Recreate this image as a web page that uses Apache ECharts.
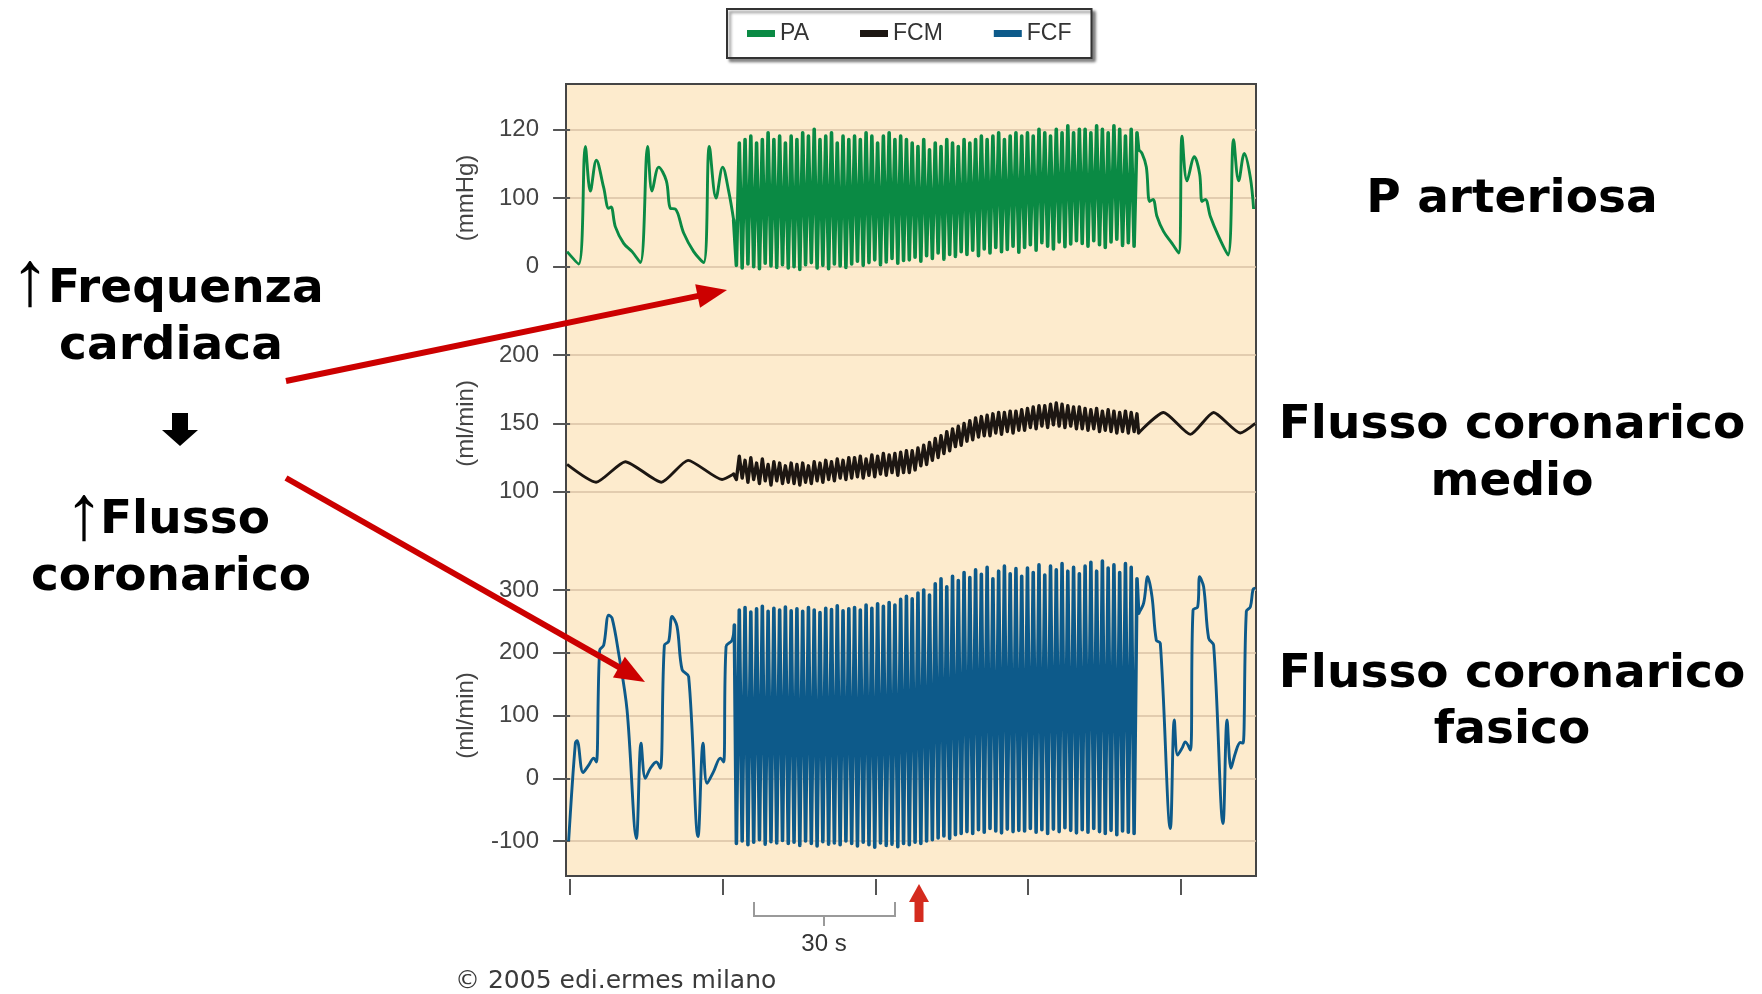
<!DOCTYPE html>
<html><head><meta charset="utf-8">
<script src="https://cdn.jsdelivr.net/npm/echarts@6/dist/echarts.min.js"></script>
<style>html,body{margin:0;padding:0;background:#fff}#c{width:1762px;height:994px}</style>
</head><body><div id="c"></div>
<script>
// ---------- axes ----------
const xTicks = [0, 30, 60, 90, 120];          // seconds
const paTickLabels = [0, 100, 120];           // mmHg (printed labels, equally spaced on the figure)
const fcmTickValues = [100, 150, 200];        // ml/min
const fcfTickValues = [-100, 0, 100, 200, 300];

// ---------- PA (mmHg): [time s, value] ----------
const paPre = [[-0.59,22],[1.69,4],[3.01,115],[3.99,102],[5.17,111],[6.61,103],[7.59,85],[8.06,87],[8.91,58],[10.54,34],[12.19,22],[13.82,6],[15.25,115],[16.12,102],[17.42,109],[18.93,105],[19.72,85],[20.7,84],[22.33,49],[24.30,22],[26.26,6],[27.38,115],[28.70,100],[30.0,109],[31.18,102],[32.16,68]];
const paPost = [[111.77,114],[112.44,113],[113.29,109],[113.94,95],[114.61,98],[115.39,73],[116.69,51],[118.34,34],[119.64,20],[120.31,118],[121.29,105],[122.73,112],[123.77,107],[124.24,95],[124.89,98],[125.88,73],[127.50,44],[129.35,17],[130.45,117],[131.44,105],[132.56,113],[133.74,106],[134.38,84]];
// pacing period: successive trough / peak values
const paDense = [
2,116,-2,117,4,118,0,116,-3,117,5,119,1,117,-1,118,3,116,-2,118,
0,117,-4,119,3,118,6,120,-2,117,2,118,-3,119,4,116,1,118,-1,117,
4,118,8,117,2,119,6,118,10,116,3,118,7,119,12,117,5,118,9,117,
10,116,14,115,8,117,16,114,12,116,20,115,11,117,18,116,15,115,22,117,
18,116,24,117,16,118,26,117,20,118,28,119,22,117,25,118,30,119,21,118,
28,119,32,118,24,120,35,119,30,118,26,120,36,119,29,121,33,119,38,120,
34,120,30,119,38,121,32,120,28,119,36,121,40,120,31,118,35,120,30,119];

// ---------- FCM (ml/min) ----------
const fcmPre = [[-0.59,120],[5.11,107],[10.87,122],[17.95,107],[23.20,123],[29.88,109],[32.16,113]];
const fcmPost = [[111.77,143],[116.69,158],[121.94,142],[126.52,158],[131.77,143],[134.72,150]];
const fcmDense = [
109,126,110,123,107,125,109,121,106,124,108,120,105,122,108,121,106,119,107,121,
106,120,105,121,107,119,106,122,108,121,107,123,109,122,108,124,110,123,109,125,
110,125,111,126,110,124,112,127,111,126,113,128,112,127,114,128,112,129,114,130,
114,130,116,132,119,134,120,136,123,139,125,141,128,144,130,146,133,148,134,150,
137,152,138,154,140,155,141,156,141,157,143,158,142,158,144,159,143,159,145,160,
145,161,147,162,146,163,148,163,147,164,149,165,148,164,147,163,148,162,146,162,
146,161,145,160,146,161,144,159,145,160,144,159,143,158,144,159,143,158,144,157];

// ---------- FCF (ml/min) ----------
const fcfPre = [[-0.28,-100],[1.04,56],[1.38,60],[2.56,9],[3.66,21],[4.64,32],[5.17,26],[5.82,204],[6.61,212],[7.59,260],[8.26,255],[9.55,199],[11.20,109],[13.03,-96],[13.96,56],[14.80,0],[15.79,16],[16.96,26],[17.75,16],[18.54,212],[19.38,218],[20.05,258],[21.03,242],[22.02,173],[23.31,162],[25.16,-93],[26.15,56],[26.93,-8],[28.23,11],[29.55,32],[30.19,26],[30.67,210],[31.85,220],[32.30,244]];
const fcfPost = [[111.77,263],[112.76,279],[113.55,321],[114.41,289],[115.25,220],[116.04,215],[118.01,-80],[118.79,93],[119.44,37],[120.31,48],[120.96,58],[121.94,45],[122.47,268],[123.38,273],[123.77,321],[124.56,305],[125.54,223],[126.52,212],[128.37,-72],[129.16,93],[129.94,16],[130.79,40],[131.77,57],[132.30,56],[132.95,266],[133.74,273],[134.27,301],[134.72,303]];
const fcfDense = [
-104,268,-100,272,-106,265,-102,270,-98,274,-105,266,-101,271,-103,268,-99,273,-104,267,
-102,270,-107,266,-100,272,-104,268,-108,264,-101,271,-105,269,-103,275,-106,267,-100,270,
-104,272,-108,268,-102,276,-106,271,-110,278,-103,274,-107,280,-105,276,-109,285,-104,290,
-106,286,-102,295,-104,300,-100,292,-98,310,-95,318,-92,305,-96,322,-90,315,-88,328,
-85,320,-88,332,-82,325,-86,336,-80,318,-84,330,-87,338,-81,326,-85,334,-83,322,
-84,335,-80,328,-86,340,-82,324,-88,338,-81,332,-85,342,-79,330,-83,336,-87,326,
-82,338,-86,344,-80,330,-85,346,-88,335,-83,340,-90,328,-84,342,-86,336,-88,318];

const denseStart = 32.7, denseEnd = 111.45;   // pacing interval (s)

// ---------- helpers ----------
const C_PA = '#0a8a44', C_FCM = '#1c1612', C_FCF = '#0d5a8a';
// piecewise PA axis: 0..100 mmHg then 100..120 mmHg, each one tick step
function paAxis(v){ return v <= 100 ? v/100 : 1 + (v-100)/20; }
function ident(v){ return v; }
function denseTimes(vals){
  const n = vals.length, dt = (denseEnd - denseStart)/(n-1);
  return vals.map((v,i)=>[denseStart + i*dt, v]);
}
function buildSeries(name, pre, dense, post, map, color, idx, smooth, dw){
  const m = p => [p[0], map(p[1])];
  const common = {name, type:'line', xAxisIndex:idx, yAxisIndex:idx, showSymbol:false, symbol:'none', clip:false, animation:false, color};
  const d = [pre[pre.length-1]].concat(denseTimes(dense)).concat([post[0]]);
  return [
    Object.assign({}, common, {data: pre.map(m), smooth, lineStyle:{color, width:2.9, join:'round'}}),
    Object.assign({}, common, {data: d.map(m), smooth:false, lineStyle:{color, width:dw, join:'round', cap:'round'}}),
    Object.assign({}, common, {data: post.map(m), smooth, lineStyle:{color, width:2.9, join:'round'}})
  ];
}
function arrow(x1,y1,x2,y2,color,w,headLen,headHalf){
  const dx=x2-x1, dy=y2-y1, L=Math.hypot(dx,dy), ux=dx/L, uy=dy/L;
  const bx=x2-ux*headLen, by=y2-uy*headLen;
  return [
    {type:'line', z:60, shape:{x1, y1, x2:bx+ux*2, y2:by+uy*2}, style:{stroke:color, lineWidth:w}},
    {type:'polygon', z:60, shape:{points:[[x2,y2],[bx-uy*headHalf, by+ux*headHalf],[bx+uy*headHalf, by-ux*headHalf]]}, style:{fill:color}}
  ];
}
function txt(text, x, y, font, align, color){
  return {type:'text', z:70, x, y, style:{text, font, fill: color||'#000', textAlign: align||'center', textVerticalAlign:'middle', verticalAlign:'middle'}};
}

// ---------- layout ----------
const PL = 566, PW = 690;                // plot box
const XMIN = -0.8, XMAX = 134.85;
const gridTops = [129.3, 355, 590];
const gridHeights = [137.4, 136.8, 251];

const tickFont = {fontFamily:'Liberation Sans', fontSize:24, color:'#444'};
const nameFont = {fontFamily:'Liberation Sans', fontSize:24, color:'#444'};
const splitStyle = {lineStyle:{color:'#d8c2a4', width:1.5}};
const tickStyle = {show:true, length:17, lineStyle:{color:'#555', width:2}};

function yAx(i, opts){
  return Object.assign({
    gridIndex:i, type:'value', nameLocation:'middle', nameRotate:90, nameGap:88,
    nameTextStyle:nameFont, axisLine:{show:false}, axisTick:tickStyle,
    axisLabel:Object.assign({margin:27}, tickFont), splitLine:splitStyle
  }, opts);
}
function xAx(i, show){
  return {
    gridIndex:i, type:'value', min:XMIN, max:XMAX, show,
    position:'bottom', offset:38,
    axisLine:{show:false, onZero:false},
    axisTick:{show:true, inside:false, length:16, customValues:xTicks, lineStyle:{color:'#555', width:2}},
    axisLabel:{show:false}, splitLine:{show:false}
  };
}

const option = {
  backgroundColor:'#ffffff',
  animation:false,
  legend:{
    data:['PA','FCM','FCF'], left:727, top:9, padding:[13,20,13,20], itemWidth:28, itemHeight:7, itemGap:51,
    icon:'rect', borderColor:'#333', borderWidth:2, backgroundColor:'#fff',
    shadowColor:'rgba(0,0,0,0.45)', shadowBlur:3, shadowOffsetX:3, shadowOffsetY:3,
    textStyle:{fontFamily:'Liberation Sans', fontSize:23, color:'#333'}, selectedMode:false
  },
  grid:[0,1,2].map(i=>({left:PL, width:PW, top:gridTops[i], height:gridHeights[i], outerBoundsMode:'none', containLabel:false})),
  xAxis:[xAx(0,false), xAx(1,false), xAx(2,true)],
  yAxis:[
    yAx(0,{min:0, max:2, interval:1, name:'(mmHg)', axisLabel:Object.assign({margin:27, formatter:v=>String(paTickLabels[Math.round(v)])}, tickFont)}),
    yAx(1,{min:fcmTickValues[0], max:fcmTickValues[fcmTickValues.length-1], interval:50, name:'(ml/min)'}),
    yAx(2,{min:fcfTickValues[0], max:fcfTickValues[fcfTickValues.length-1], interval:100, name:'(ml/min)'})
  ],
  series:[].concat(
    buildSeries('PA', paPre, paDense, paPost, paAxis, C_PA, 0, 0.35, 3.6),
    buildSeries('FCM', fcmPre, fcmDense, fcmPost, ident, C_FCM, 1, 0.2, 3.4),
    buildSeries('FCF', fcfPre, fcfDense, fcfPost, ident, C_FCF, 2, 0.35, 3.6)
  ),
  graphic:{elements:[].concat(
    [{type:'rect', z:-10, shape:{x:PL, y:84, width:PW, height:792}, style:{fill:'#fdebcd', stroke:'#454545', lineWidth:2}}],
    // 30 s bracket
    [{type:'polyline', z:50, shape:{points:[[754,902],[754,916],[895,916],[895,902]]}, style:{stroke:'#9a9a9a', lineWidth:2, fill:null}},
     {type:'line', z:50, shape:{x1:824,y1:916,x2:824,y2:926}, style:{stroke:'#9a9a9a', lineWidth:2}},
     txt('30 s', 824, 944, '24px "Liberation Sans"', 'center', '#333')],
    arrow(919, 922, 919, 884, '#d42b1e', 9, 18, 10),
    arrow(286, 381, 727, 290, '#cc0000', 6, 30, 12),
    arrow(286, 478, 645, 682, '#cc0000', 6, 30, 12),
    arrow(180, 413, 180, 446, '#000000', 16, 16, 18),
    [
      txt('↑', 30, 283, '78px "Liberation Sans"', 'center'),
      txt('Frequenza', 48, 290, 'bold 47px "DejaVu Sans"', 'left'),
      txt('cardiaca', 171, 347, 'bold 47px "DejaVu Sans"', 'center'),
      txt('↑', 84, 517, '78px "Liberation Sans"', 'center'),
      txt('Flusso', 100, 521, 'bold 47px "DejaVu Sans"', 'left'),
      txt('coronarico', 171, 578, 'bold 47px "DejaVu Sans"', 'center'),
      txt('P arteriosa', 1512, 200, 'bold 47px "DejaVu Sans"', 'center'),
      txt('Flusso coronarico', 1512, 426, 'bold 47px "DejaVu Sans"', 'center'),
      txt('medio', 1512, 483, 'bold 47px "DejaVu Sans"', 'center'),
      txt('Flusso coronarico', 1512, 675, 'bold 47px "DejaVu Sans"', 'center'),
      txt('fasico', 1512, 731, 'bold 47px "DejaVu Sans"', 'center'),
      txt('© 2005 edi.ermes milano', 455, 981, '25px "DejaVu Sans"', 'left', '#3a3a3a')
    ]
  )}
};
const chart = echarts.init(document.getElementById('c'), null, {renderer:'canvas'});
chart.setOption(option);
</script></body></html>
